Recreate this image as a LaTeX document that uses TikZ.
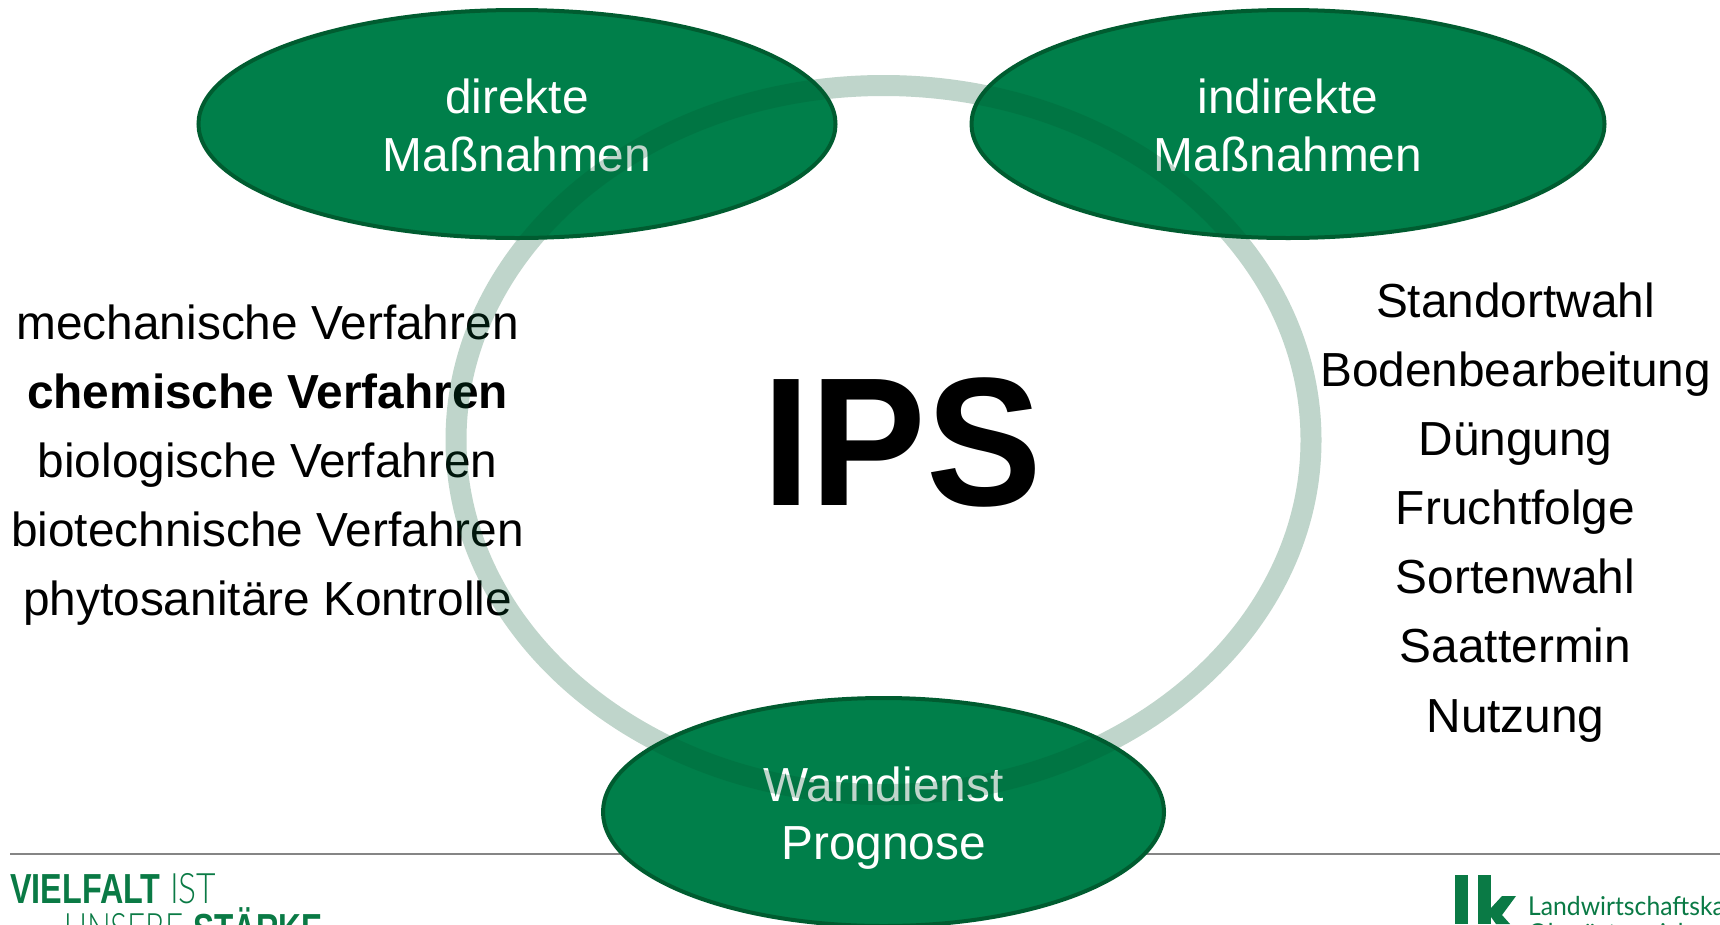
\documentclass[tikz,border=0pt]{standalone}
\usepackage{fontspec}
\setmainfont{Liberation Sans}
\newfontfamily\lightfont{Lato Light}
\newfontfamily\logofont{Lato}
\usetikzlibrary{shapes.geometric}
\definecolor{ovalfill}{HTML}{007F4A}
\definecolor{ovalline}{HTML}{005C30}
\definecolor{ringcol}{HTML}{005A30}
\definecolor{rulecol}{HTML}{858585}
\definecolor{logogreen}{HTML}{0A7A45}
\newcommand{\ovalstrut}[1]{\rule{0pt}{#1}}
\tikzset{
  oval/.style={ellipse,draw=ovalline,fill=ovalfill,line width=4pt,inner sep=0pt,outer sep=0pt,text=white,align=center,font=\fontsize{47.8}{58}\selectfont},
  listitem/.style={anchor=base,inner sep=0pt,font=\fontsize{47.8}{58}\selectfont,text=black},
  ring/.style={ellipse,draw=ringcol,draw opacity=.25,line width=21pt,inner sep=0pt,outer sep=0pt},
  logotext/.style={anchor=base west,inner sep=0pt,text=logogreen},
}
\begin{document}
\begin{tikzpicture}[x=1pt,y=-1pt]
\useasboundingbox (0,0) rectangle (1720,924);
\clip (0,0) rectangle (1720,924);
\fill[white] (0,0) rectangle (1720,924);
% rule
\coordinate (ruleL) at (10,854);
\coordinate (ruleR) at (1720,854);
\draw[rulecol,line width=1.6pt] (ruleL) -- (ruleR);
% ovals
\node[oval,minimum width=637pt,minimum height=228pt] (direkt) at (517,124) {\ovalstrut{37.5pt}direkte\\Maßnahmen};
\node[oval,minimum width=633pt,minimum height=228pt] (indirekt) at (1288,124) {\ovalstrut{37.5pt}indirekte\\Maßnahmen};
\node[oval,minimum width=561pt,minimum height=228pt] (warn) at (883.5,812) {\ovalstrut{46pt}Warndienst\\Prognose};
% left list
\node[listitem] (l1) at (267.6,339) {mechanische Verfahren};
\node[listitem,font=\fontsize{47.8}{58}\selectfont\bfseries] (l2) at (267.6,408) {chemische Verfahren};
\node[listitem] (l3) at (267.6,477) {biologische Verfahren};
\node[listitem] (l4) at (267.6,546) {biotechnische Verfahren};
\node[listitem] (l5) at (267.6,615) {phytosanitäre Kontrolle};
% right list
\node[listitem] (r1) at (1515.5,317) {Standortwahl};
\node[listitem] (r2) at (1515.5,386) {Bodenbearbeitung};
\node[listitem] (r3) at (1515.5,455) {Düngung};
\node[listitem] (r4) at (1515.5,524) {Fruchtfolge};
\node[listitem] (r5) at (1515.5,593) {Sortenwahl};
\node[listitem] (r6) at (1515.5,662) {Saattermin};
\node[listitem] (r7) at (1515.5,732) {Nutzung};
% centre
\node[anchor=base,inner sep=0pt,font=\fontsize{176}{176}\selectfont\bfseries,xscale=.985,yscale=1.04] (ips) at (902,505) {IPS};
% ring on top
\node[ring,minimum width=855pt,minimum height=709pt] (ipsring) at (883.5,440) {};
% left logo
\node[logotext,font=\fontsize{42}{42}\selectfont\bfseries,xscale=.77] (vielfalt) at (10,903) {VIELFALT};
\node[logotext,font=\fontsize{42}{42}\lightfont,xscale=.8] (ist) at (170,903) {IST};
\node[logotext,font=\fontsize{42}{42}\lightfont,xscale=.75] (unsere) at (64,943) {UNSERE};
\node[logotext,font=\fontsize{42}{42}\selectfont\bfseries,xscale=.75] (staerke) at (193,943) {STÄRKE};
% right logo
\fill[logogreen] (1455,875) rectangle (1468,924);
\fill[logogreen] (1478,875) rectangle (1491,924);
\fill[logogreen] (1491,908) -- (1502,896) -- (1516,896) -- (1502,915) -- (1510,924) -- (1496,924) -- (1491,917) -- cycle;
\node[logotext,font=\fontsize{26}{26}\logofont,xscale=.95] (lwk) at (1528,915) {Landwirtschaftska};
\node[logotext,font=\fontsize{26}{26}\logofont,xscale=.95] (ooe) at (1528,942) {Oberösterreich};
\end{tikzpicture}
\end{document}
